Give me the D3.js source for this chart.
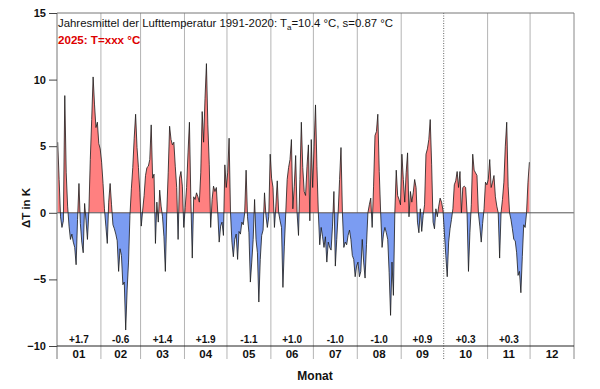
<!DOCTYPE html>
<html>
<head>
<meta charset="utf-8">
<script src="https://cdn.jsdelivr.net/npm/d3@7/dist/d3.min.js"></script>
<style>
  body { margin: 0; background: #fff; }
  text { font-family: Arial, "Liberation Sans", sans-serif; }
</style>
</head>
<body>
<svg width="600" height="389"></svg>
<script>
// daily anomalies (K) against the 1991-2020 mean, one array per month
var jan = [5.3, 2.5, -0.3, -1.1, -0.6, 8.8, 3.0, 0.5, -1.0, -2.0, -1.6, -2.2, -2.6, -3.9, -0.5, 2.2,
           -0.8, -2.2, -3.0, 0.7, -0.6, -2.0, 0.1, 4.0, 7.0, 10.2, 8.1, 6.4, 6.8, 5.2, 4.8];
var feb = [3.8, 2.2, 0.3, -1.0, -2.3, 0.8, 2.2, 0.6, -0.9, -1.2, -1.6, -2.1, -4.4, -2.7, -3.2, -5.4,
           -5.2, -8.8, -5.8, -3.7, -0.2, 1.8, 3.4, 5.6, 7.4, 4.9, 3.4, 1.5];
var mar = [-1.0, 0.2, 1.3, 2.8, 3.4, 3.5, 4.0, 6.6, 2.6, 2.9, -2.3, 0.8, -0.7, 1.7, 0.5, -0.3,
           -1.8, -4.4, 0.0, 3.0, 6.5, 5.5, 5.1, 5.3, 3.5, 1.9, -2.0, 2.6, 3.1, 2.0, -1.1];
var apr = [0.4, 1.9, 4.5, 6.8, 1.0, -3.4, 1.2, 1.0, 1.5, 1.2, 0.8, 3.0, 7.6, 5.3, 8.6, 11.2,
           6.6, 3.6, -1.1, 1.0, 2.0, 1.6, 1.9, 0.0, -2.2, -1.0, -0.7, -1.7, 3.6, 1.9];
var may = [3.0, 5.6, 0.0, -2.2, -3.3, -2.0, -1.6, -3.5, -1.4, -1.6, -0.7, -0.9, 0.0, 3.2, -0.3, -1.5,
           -5.2, -3.7, -2.0, 1.0, -2.0, -3.0, -6.7, -3.5, -1.7, -1.3, 1.5, -0.2, -1.1, -0.3, 4.4];
var jun = [2.6, 1.9, -1.1, 0.5, 2.4, 0.0, -0.6, -1.1, -5.6, -2.5, 0.0, 2.5, 3.4, 4.0, 5.5, 0.3,
           2.0, 4.3, 0.0, -1.7, 2.5, 6.8, 3.4, 1.6, 1.3, 3.5, 5.1, -0.6, 5.5, 1.9];
var jul = [5.0, 8.1, 3.5, 0.0, -2.4, -1.1, -1.8, -2.6, -1.8, -3.7, -2.2, -2.6, -2.8, -1.0, 1.6, -4.0,
           -2.0, 0.0, 2.5, 4.9, 0.0, -2.6, -2.2, -2.4, -1.7, -1.3, -2.0, -3.2, -3.5, -4.8, -4.0];
var aug = [-3.7, -4.8, -4.4, -2.0, -3.7, -4.9, -2.4, 0.0, 0.6, 1.1, -1.1, 2.0, 5.8, 6.1, 7.4, 3.1,
           0.0, -2.6, -1.6, -1.1, -1.5, -2.0, -4.5, -7.7, -3.7, -6.2, 0.0, 3.2, 1.3, 1.0, 0.6];
var sep = [4.4, 2.5, 0.8, 3.0, 4.5, -0.3, 1.6, 0.8, 1.5, 2.5, 1.9, -0.7, -1.5, 0.3, -1.4, -0.2,
           0.6, 4.4, 4.8, 5.5, 7.0, 3.6, -0.7, -1.2, 0.3, -0.3, 0.5, 1.1, 0.8, 0.2];
var oct = [-1.5, -3.2, -4.8, -2.2, -1.2, -0.5, 0.3, 2.1, 2.4, 3.1, 1.9, 3.1, 0.0, 1.9, 2.0, 1.9,
           0.0, -4.4, -1.5, 0.6, 4.4, 3.2, 3.0, 2.8, 0.0, -1.0, -2.2, -0.8, 0.3, 2.3, 2.1];
var nov = [2.5, 4.0, 1.9, 2.3, 2.8, 1.2, 0.5, 0.0, -3.4, 0.0, 1.0, 2.3, 5.0, 6.8, 2.0, 0.0,
           -0.5, -1.2, -2.0, -2.1, -3.0, -4.7, -4.4, -6.0, -3.3, -0.9, -1.1, 0.0, 2.3, 3.8];

var monthLabels = ["01", "02", "03", "04", "05", "06", "07", "08", "09", "10", "11", "12"];
var monthMeans = ["+1.7", "-0.6", "+1.4", "+1.9", "-1.1", "+1.0", "-1.0", "-1.0", "+0.9", "+0.3", "+0.3", ""];
var monthDays = [31, 28, 31, 30, 31, 30, 31, 31, 30, 31, 30, 31];
var yTicks = [15, 10, 5, 0, -5, -10];

var values = [].concat(jan, feb, mar, apr, may, jun, jul, aug, sep, oct, nov);

var plotLeft = 57, plotRight = 574, plotTop = 13, plotBottom = 346, gridBottom = 359;

var x = d3.scaleLinear().domain([0, 365]).range([plotLeft, plotRight]);
var y = d3.scaleLinear().domain([-10, 15]).range([plotBottom, plotTop]);

var svg = d3.select("svg");

// month start positions
var starts = [0];
monthDays.forEach((n, i) => starts.push(starts[i] + n));

// vertical month grid (Sep/Oct boundary is dotted)
svg.selectAll(".grid")
  .data(starts.slice(1, 12))
  .enter()
    .append("line")
    .attr("x1", d => x(d)).attr("x2", d => x(d))
    .attr("y1", plotTop).attr("y2", gridBottom)
    .attr("stroke", d => d === 273 ? "#666" : "#b4b4b4")
    .attr("stroke-width", 1)
    .attr("stroke-dasharray", d => d === 273 ? "1,1.5" : null);

// filled anomaly areas
var defs = svg.append("defs");
defs.append("clipPath").attr("id", "above")
  .append("rect").attr("x", plotLeft).attr("y", plotTop)
  .attr("width", plotRight - plotLeft).attr("height", y(0) - plotTop);
defs.append("clipPath").attr("id", "below")
  .append("rect").attr("x", plotLeft).attr("y", y(0))
  .attr("width", plotRight - plotLeft).attr("height", plotBottom - y(0));

var area = d3.area()
  .x((d, i) => x(i + 0.5))
  .y0(y(0))
  .y1(d => y(d));

svg.append("path").datum(values)
  .attr("d", area).attr("fill", "#ff8080").attr("clip-path", "url(#above)");
svg.append("path").datum(values)
  .attr("d", area).attr("fill", "#7b9cf2").attr("clip-path", "url(#below)");

// zero line
svg.append("line")
  .attr("x1", plotLeft).attr("x2", plotRight).attr("y1", y(0)).attr("y2", y(0))
  .attr("stroke", "#555").attr("stroke-width", 1);

// daily curve
svg.append("path").datum(values)
  .attr("d", d3.line().x((d, i) => x(i + 0.5)).y(d => y(d)))
  .attr("fill", "none").attr("stroke", "#1a1a1a").attr("stroke-width", 0.8);

// frame
svg.append("line").attr("x1", plotLeft).attr("x2", plotLeft).attr("y1", plotTop).attr("y2", gridBottom)
  .attr("stroke", "#777");
svg.append("line").attr("x1", plotRight).attr("x2", plotRight).attr("y1", plotTop).attr("y2", gridBottom)
  .attr("stroke", "#888");
svg.append("line").attr("x1", plotLeft).attr("x2", plotRight).attr("y1", plotTop).attr("y2", plotTop)
  .attr("stroke", "#777");
svg.append("line").attr("x1", plotLeft).attr("x2", plotRight).attr("y1", plotBottom).attr("y2", plotBottom)
  .attr("stroke", "#222");

// y axis
var yAxis = svg.append("g")
  .attr("transform", "translate(" + plotLeft + ",0)")
  .call(d3.axisLeft(y).tickValues(yTicks).tickSize(8).tickSizeOuter(0).tickPadding(3));
yAxis.select(".domain").remove();
yAxis.selectAll("line").attr("stroke", "#444");
yAxis.selectAll("text")
  .attr("font-size", "11px").attr("font-weight", "bold").attr("fill", "#111")
  .style("font-family", "Arial, 'Liberation Sans', sans-serif");

// month labels and monthly means
svg.selectAll(".mlab")
  .data(monthLabels)
  .enter()
    .append("text")
    .attr("x", (d, i) => x(starts[i] + monthDays[i] / 2))
    .attr("y", 358)
    .attr("text-anchor", "middle")
    .attr("font-size", "11.5px").attr("font-weight", "bold").attr("fill", "#111")
    .text(d => d);

svg.selectAll(".mmean")
  .data(monthMeans)
  .enter()
    .append("text")
    .attr("x", (d, i) => x(starts[i] + monthDays[i] / 2))
    .attr("y", 343)
    .attr("text-anchor", "middle")
    .attr("font-size", "10px").attr("font-weight", "bold").attr("fill", "#111")
    .text(d => d);

// axis titles
svg.append("text")
  .attr("x", 315).attr("y", 380)
  .attr("text-anchor", "middle")
  .attr("font-size", "12px").attr("font-weight", "bold").attr("fill", "#111")
  .text("Monat");

svg.append("text")
  .attr("transform", "translate(30,208) rotate(-90)")
  .attr("text-anchor", "middle")
  .attr("font-size", "11.5px").attr("font-weight", "bold").attr("fill", "#111")
  .text("\u0394T in K");

// header lines
var head = svg.append("text")
  .attr("x", 58).attr("y", 27)
  .attr("font-size", "11.4px").attr("fill", "#111");
head.append("tspan").text("Jahresmittel der Lufttemperatur 1991-2020: T");
head.append("tspan").attr("font-size", "8px").attr("dy", 3).text("a");
head.append("tspan").attr("dy", -3).text("=10.4 \u00b0C, s=0.87 \u00b0C");

svg.append("text")
  .attr("x", 58).attr("y", 44)
  .attr("font-size", "11.6px").attr("font-weight", "bold").attr("fill", "#dd0000")
  .text("2025: T=xxx \u00b0C");
</script>
</body>
</html>
